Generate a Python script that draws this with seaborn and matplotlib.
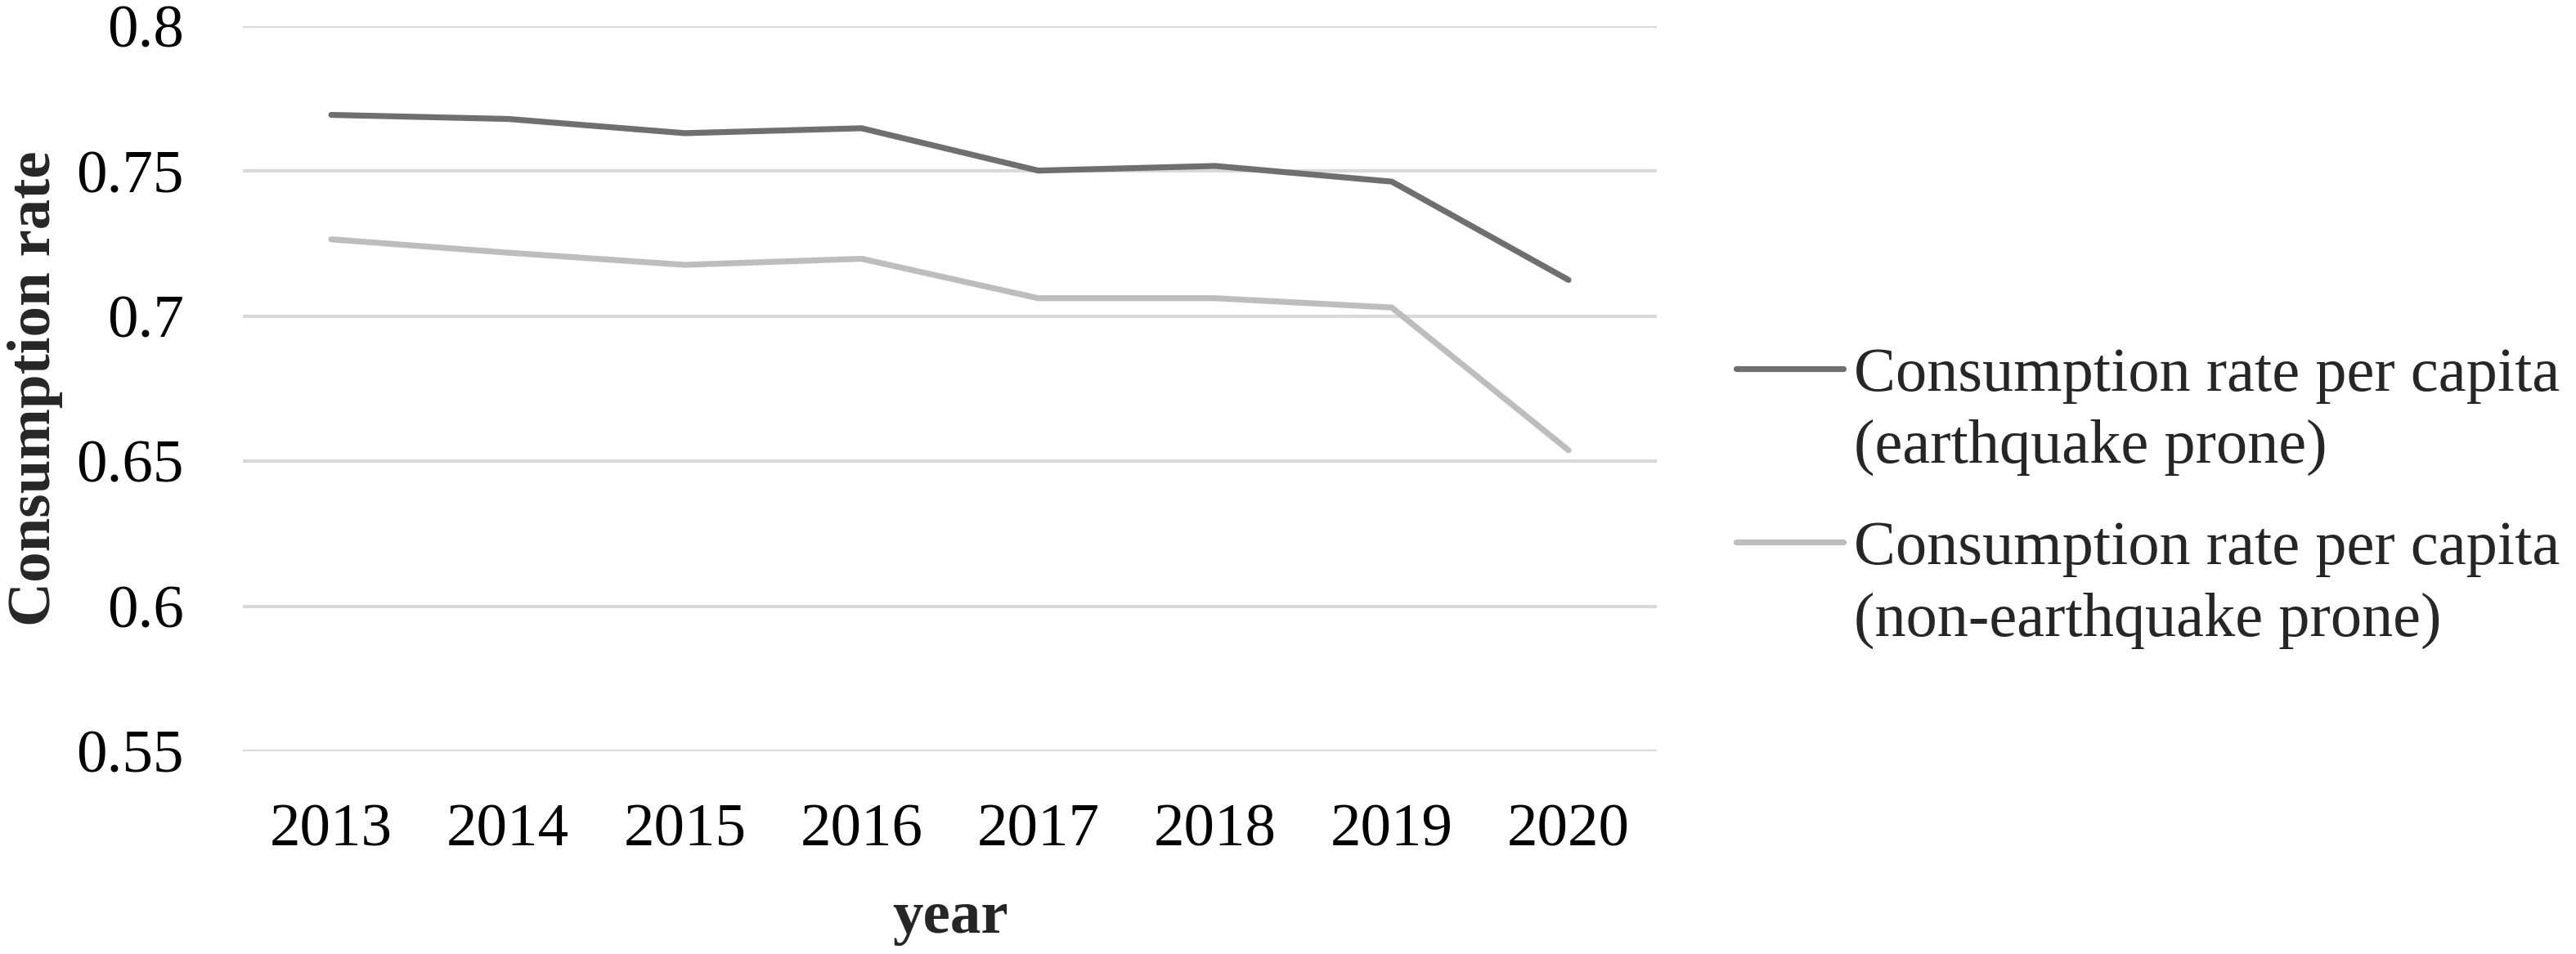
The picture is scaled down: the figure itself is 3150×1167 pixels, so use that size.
import matplotlib.pyplot as plt
import pandas as pd
import seaborn as sns
import numpy as np
from matplotlib.legend_handler import HandlerLine2D
from matplotlib.ticker import FuncFormatter

years = ["2013", "2014", "2015", "2016", "2017", "2018", "2019", "2020"]
prone = [0.7694, 0.7680, 0.7631, 0.7648, 0.7502, 0.7518, 0.7464, 0.7125]
non_prone = [0.7265, 0.7219, 0.7177, 0.7198, 0.7062, 0.7062, 0.7030, 0.6538]
label_prone = "Consumption rate per capita\n(earthquake prone)"
label_non = "Consumption rate per capita\n(non-earthquake prone)"
y_ticks = [0.55, 0.6, 0.65, 0.7, 0.75, 0.8]

df = pd.DataFrame({
    "year": years * 2,
    "rate": prone + non_prone,
    "series": [label_prone] * len(years) + [label_non] * len(years),
})

sns.set_theme(style="white")
plt.rcParams["font.family"] = ["Liberation Serif", "DejaVu Serif"]

fs = 54
fig = plt.figure(figsize=(31.5, 11.67), dpi=100)
ax = fig.add_axes([0.0943, 0.2125, 0.5489, 0.7601])

colors = {label_prone: "#6f6f6f", label_non: "#bdbdbd"}
sns.lineplot(data=df, x="year", y="rate", hue="series", palette=colors,
             linewidth=5.2, sort=False, legend=False, ax=ax)
for line in ax.lines:
    line.set_solid_capstyle("round")

ax.set_xlim(-0.5, len(years) - 0.5)
ax.set_ylim(0.55, 0.8)
ax.set_yticks(y_ticks)
ax.yaxis.set_major_formatter(FuncFormatter(lambda v, p: f"{round(v, 2):g}"))
ax.grid(axis="y", color="#d9d9d9", linewidth=3)
ax.grid(axis="x", visible=False)
ax.set_axisbelow(True)
for s in ax.spines.values():
    s.set_visible(False)

ax.tick_params(axis="both", length=0, labelsize=fs, labelcolor="black")
ax.tick_params(axis="x", pad=46)
ax.tick_params(axis="y", pad=52)
ax.set_xlabel("year", fontsize=fs, fontweight="bold", labelpad=28)
ax.set_ylabel("Consumption rate", fontsize=fs, fontweight="bold", labelpad=12)


# Excel puts the legend line next to the first line of the label
class TopHandler(HandlerLine2D):
    def create_artists(self, legend, orig_handle, xdescent, ydescent,
                       width, height, fontsize, trans):
        artists = super().create_artists(legend, orig_handle, xdescent, ydescent,
                                         width, height, fontsize, trans)
        for a in artists:
            a.set_ydata(np.asarray(a.get_ydata()) + 0.68 * fontsize)
        return artists


handles = ax.lines[:2]
leg = fig.legend(handles, [label_prone, label_non], loc="center left",
                 bbox_to_anchor=(0.674, 0.478), frameon=False, fontsize=55,
                 handlelength=1.72, handletextpad=0.17, labelspacing=0.72,
                 borderpad=0, borderaxespad=0,
                 handler_map={h: TopHandler() for h in handles})
for t in leg.get_texts():
    t.set_linespacing(1.35)

plt.savefig("out.png", dpi=100)
